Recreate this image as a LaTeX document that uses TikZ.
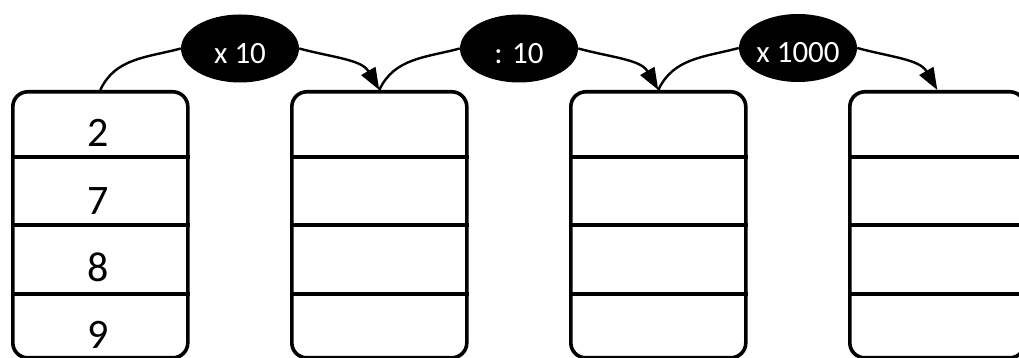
\documentclass[tikz,border=0pt]{standalone}
\usepackage{fontspec}
\setmainfont{Carlito}
\usetikzlibrary{arrows.meta,shapes.geometric}
\begin{document}
\begin{tikzpicture}[x=1pt,y=1pt,
  box/.style={draw, line width=3.6pt, rounded corners=15pt, minimum width=175pt,
    minimum height=266pt, inner sep=0pt, anchor=north west},
  divider/.style={line width=3.6pt},
  digit/.style={anchor=base, inner sep=0pt, font=\fontsize{42}{44}\selectfont},
  op/.style={ellipse, fill=black, text=white, minimum width=118pt, minimum height=68pt,
    inner sep=-12pt, text height=30pt, text depth=0pt, font=\fontsize{31}{33}\selectfont},
  link/.style={line width=2.4pt},
  linkarrow/.style={line width=2.4pt, -{Triangle[length=22pt,width=16pt]}}]
\useasboundingbox (0,0) rectangle (1019,358);
% boxes
\foreach \k in {0,1,2,3}{
  \node[box] (b\k) at ({11+279*\k},268) {};
  \foreach \d in {67,135,204}{
    \draw[divider] ([yshift=-\d pt]b\k.north west) -- ([yshift=-\d pt]b\k.north east);
  }
}
% digits
\node[digit] (n2) at (98.5,211) {2};
\node[digit] (n7) at (98.5,143) {7};
\node[digit] (n8) at (98.5,76) {8};
\node[digit] (n9) at (98.5,9) {9};
% operators
\node[op] (e1) at (240,309.5) {x 10};
\node[op] (e2) at (519,309.5) {: 10};
\node[op] (e3) at (798,310) {x 1000};
% connectors
\draw[link] (b0.north) to[out=65,in=195] (e1.west);
\draw[linkarrow] (e1.east) to[out=-15,in=120] (b1.north);
\draw[link] (b1.north) to[out=65,in=195] (e2.west);
\draw[linkarrow] (e2.east) to[out=-15,in=120] (b2.north);
\draw[link] (b2.north) to[out=65,in=195] (e3.west);
\draw[linkarrow] (e3.east) to[out=-15,in=120] (b3.north);
\end{tikzpicture}
\end{document}
